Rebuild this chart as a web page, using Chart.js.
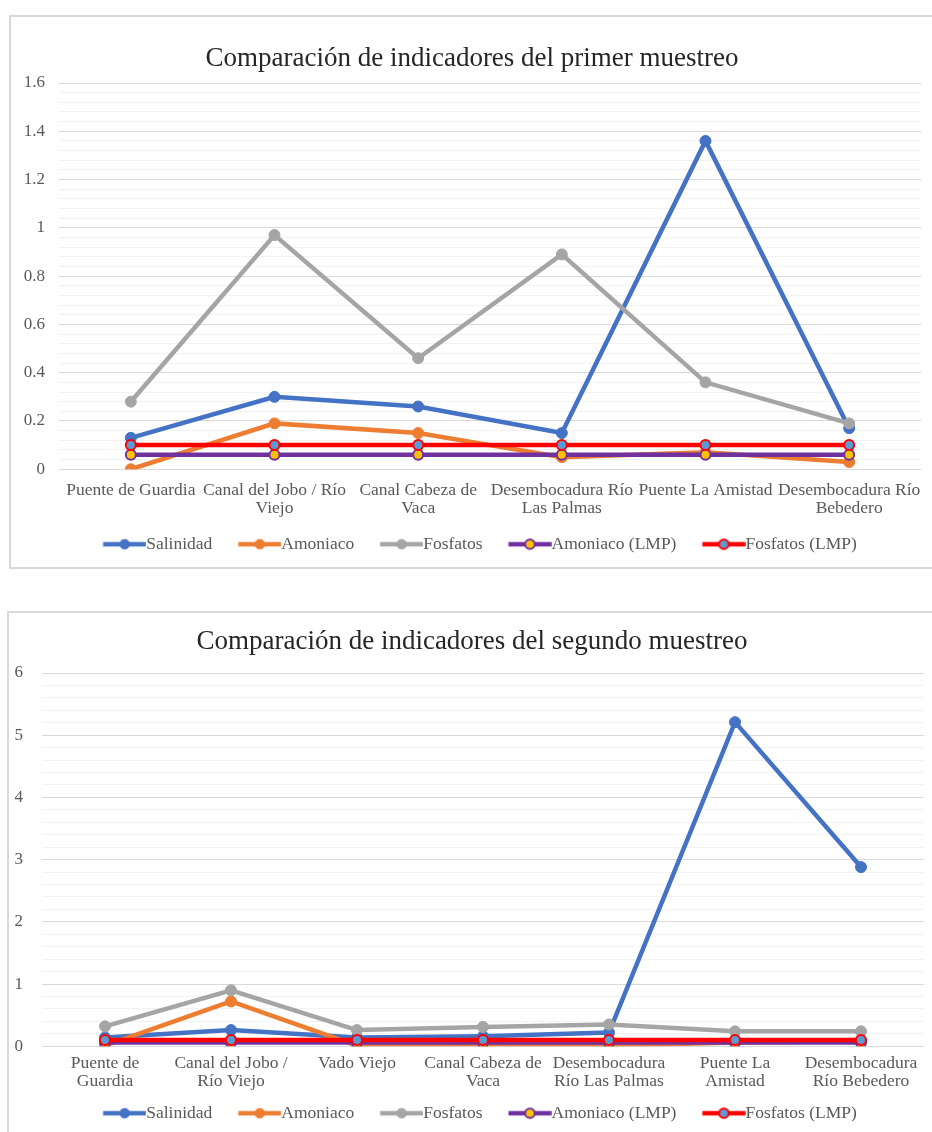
<!DOCTYPE html>
<html lang="es">
<head>
<meta charset="utf-8">
<script src="https://cdn.jsdelivr.net/npm/chart.js@4.4.0/dist/chart.umd.min.js"></script>
<style>
  html, body { margin: 0; padding: 0; background: #fff; width: 932px; height: 1132px; overflow: hidden; }
  .marco { position: absolute; box-sizing: border-box; border: 2px solid #d9d9d9; background: #fff; }
  #marco1 { left: 9px; top: 15px; width: 928px; height: 554px; }
  #marco2 { left: 7px; top: 611px; width: 937px; height: 534px; }
  canvas { display: block; }
</style>
</head>
<body>
<div class="marco" id="marco1"><canvas id="grafico1" width="924" height="550"></canvas></div>
<div class="marco" id="marco2"><canvas id="grafico2" width="933" height="530"></canvas></div>
<script>
// Puntos de muestreo
const puntosPrimer = [
  ["Puente de Guardia"],
  ["Canal del Jobo / Río", "Viejo"],
  ["Canal Cabeza de", "Vaca"],
  ["Desembocadura Río", "Las Palmas"],
  ["Puente La Amistad"],
  ["Desembocadura Río", "Bebedero"]
];
const puntosSegundo = [
  ["Puente de", "Guardia"],
  ["Canal del Jobo /", "Río Viejo"],
  ["Vado Viejo"],
  ["Canal Cabeza de", "Vaca"],
  ["Desembocadura", "Río Las Palmas"],
  ["Puente La", "Amistad"],
  ["Desembocadura", "Río Bebedero"]
];

// Primer muestreo
const salinidad1    = [0.13, 0.30, 0.26, 0.15, 1.36, 0.17];
const amoniaco1     = [0.00, 0.19, 0.15, 0.05, 0.07, 0.03];
const fosfatos1     = [0.28, 0.97, 0.46, 0.89, 0.36, 0.19];
const amoniacoLmp1  = [0.06, 0.06, 0.06, 0.06, 0.06, 0.06];
const fosfatosLmp1  = [0.10, 0.10, 0.10, 0.10, 0.10, 0.10];

// Segundo muestreo
const salinidad2    = [0.14, 0.26, 0.14, 0.16, 0.22, 5.21, 2.88];
const amoniaco2     = [0.01, 0.72, 0.01, 0.03, 0.01, 0.06, 0.08];
const fosfatos2     = [0.32, 0.90, 0.26, 0.31, 0.35, 0.24, 0.24];
const amoniacoLmp2  = [0.06, 0.06, 0.06, 0.06, 0.06, 0.06, 0.06];
const fosfatosLmp2  = [0.10, 0.10, 0.10, 0.10, 0.10, 0.10, 0.10];

const nombresSeries = ["Salinidad", "Amoniaco", "Fosfatos", "Amoniaco (LMP)", "Fosfatos (LMP)"];

const FUENTE = "'Liberation Serif', 'Times New Roman', serif";
const GRIS_TEXTO = '#595959';
const TAM_LEYENDA = 17.5;

// Estilo de cada serie: color de línea, relleno y borde del marcador
const estilos = [
  { linea: '#4472C4', relleno: '#4472C4', borde: '#4472C4', anchoBorde: 1, radio: 5.5, orden: 5 },
  { linea: '#ED7D31', relleno: '#ED7D31', borde: '#ED7D31', anchoBorde: 1, radio: 5.5, orden: 4 },
  { linea: '#A5A5A5', relleno: '#A5A5A5', borde: '#A5A5A5', anchoBorde: 1, radio: 5.5, orden: 3 },
  { linea: '#7030A0', relleno: '#FFC000', borde: '#7030A0', anchoBorde: 2, radio: 5,   orden: 2 },
  { linea: '#FF0000', relleno: '#5B9BD5', borde: '#FF0000', anchoBorde: 2, radio: 5,   orden: 1 }
];

// Muestra de la leyenda: hueco inicial, tramo de línea y marcador en el centro.
// La imagen se centra en la caja de la leyenda y llega hasta el texto.
const HUECO = 16, TRAMO = 43, SEP = 10;
const ANCHO_CAJA = HUECO + TRAMO - TAM_LEYENDA / 2;
function muestraLeyenda(e) {
  const c = document.createElement('canvas');
  c.width = Math.round(ANCHO_CAJA + TAM_LEYENDA); c.height = 14;
  const g = c.getContext('2d');
  const x0 = TAM_LEYENDA / 2 + HUECO;
  g.strokeStyle = e.linea; g.lineWidth = 4.5;
  g.beginPath(); g.moveTo(x0, 7); g.lineTo(x0 + TRAMO, 7); g.stroke();
  g.beginPath(); g.arc(x0 + TRAMO / 2, 7, 4.8, 0, Math.PI * 2);
  g.fillStyle = e.relleno; g.fill();
  g.lineWidth = e.anchoBorde; g.strokeStyle = e.borde; g.stroke();
  return c;
}
const muestras = estilos.map(muestraLeyenda);

function esMayor(v, paso) {
  const q = v / paso;
  return Math.abs(q - Math.round(q)) < 1e-6;
}

function crearGrafico(id, o) {
  const datasets = o.series.map((valores, i) => {
    const e = estilos[i];
    return {
      label: nombresSeries[i],
      data: valores,
      borderColor: e.linea,
      backgroundColor: e.relleno,
      borderWidth: 4.5,
      tension: 0,
      pointRadius: e.radio,
      pointBackgroundColor: e.relleno,
      pointBorderColor: e.borde,
      pointBorderWidth: e.anchoBorde,
      order: e.orden
    };
  });

  return new Chart(document.getElementById(id), {
    type: 'line',
    data: { labels: o.categorias, datasets },
    options: {
      responsive: false,
      animation: false,
      events: [],
      layout: { padding: o.relleno },
      plugins: {
        tooltip: { enabled: false },
        title: {
          display: true,
          text: o.titulo,
          color: '#262626',
          font: { family: FUENTE, size: 27, weight: 'normal', lineHeight: 1.2 },
          padding: o.rellenoTitulo
        },
        legend: {
          position: 'bottom',
          labels: {
            usePointStyle: true,
            pointStyleWidth: ANCHO_CAJA,
            boxHeight: 14,
            padding: SEP,
            color: GRIS_TEXTO,
            font: { family: FUENTE, size: TAM_LEYENDA, lineHeight: 1 },
            generateLabels: (chart) => chart.data.datasets.map((ds, i) => ({
              text: ds.label,
              pointStyle: muestras[i],
              fillStyle: 'rgba(0,0,0,0)',
              strokeStyle: 'rgba(0,0,0,0)',
              lineWidth: 0,
              hidden: false,
              datasetIndex: i,
              fontColor: GRIS_TEXTO
            }))
          }
        }
      },
      scales: {
        x: {
          type: 'category',
          offset: true,
          grid: { display: false, drawTicks: false },
          border: { display: false },
          ticks: {
            color: GRIS_TEXTO,
            font: { family: FUENTE, size: 17.5, lineHeight: o.altoLinea },
            maxRotation: 0,
            minRotation: 0,
            autoSkip: false,
            padding: o.rellenoX
          },
          afterFit: (s) => { s.height = o.altoX; }
        },
        y: {
          min: 0,
          max: o.maximo,
          grid: {
            drawTicks: false,
            lineWidth: 1,
            color: (ctx) => esMayor(ctx.tick.value, o.pasoMayor) ? '#d9d9d9' : '#f2f2f2'
          },
          border: { display: false },
          ticks: {
            stepSize: o.pasoMenor,
            maxTicksLimit: 200,
            autoSkip: false,
            color: GRIS_TEXTO,
            padding: o.rellenoY,
            font: { family: FUENTE, size: 17 },
            callback: (v) => esMayor(v, o.pasoMayor) ? String(Number(v.toFixed(1))) : ''
          },
          afterFit: (s) => { s.width = o.anchoY; }
        },
        // margen derecho del área de trazado (sin marcas ni rótulos)
        margen: {
          type: 'linear',
          position: 'right',
          display: true,
          grid: { display: false, drawTicks: false },
          border: { display: false },
          ticks: { display: false },
          afterFit: (s) => { s.width = o.anchoDerecho; }
        }
      }
    }
  });
}

crearGrafico('grafico1', {
  titulo: 'Comparación de indicadores del primer muestreo',
  categorias: puntosPrimer,
  series: [salinidad1, amoniaco1, fosfatos1, amoniacoLmp1, fosfatosLmp1],
  maximo: 1.6, pasoMayor: 0.2, pasoMenor: 0.04,
  relleno: { left: 10, right: 12, top: 0, bottom: 4 },
  rellenoTitulo: { top: 25.8, bottom: 7.8 },
  anchoY: 38, rellenoY: 14, anchoDerecho: 2,
  altoX: 56.25, rellenoX: 12.5, altoLinea: 1.0
});

crearGrafico('grafico2', {
  titulo: 'Comparación de indicadores del segundo muestreo',
  categorias: puntosSegundo,
  series: [salinidad2, amoniaco2, fosfatos2, amoniacoLmp2, fosfatosLmp2],
  maximo: 6, pasoMayor: 1, pasoMenor: 0.2,
  relleno: { left: 4, right: 11, top: 0, bottom: 11 },
  rellenoTitulo: { top: 12.8, bottom: 14.8 },
  anchoY: 29, rellenoY: 19, anchoDerecho: 7,
  altoX: 48.25, rellenoX: 8, altoLinea: 1.03
});
</script>
</body>
</html>
